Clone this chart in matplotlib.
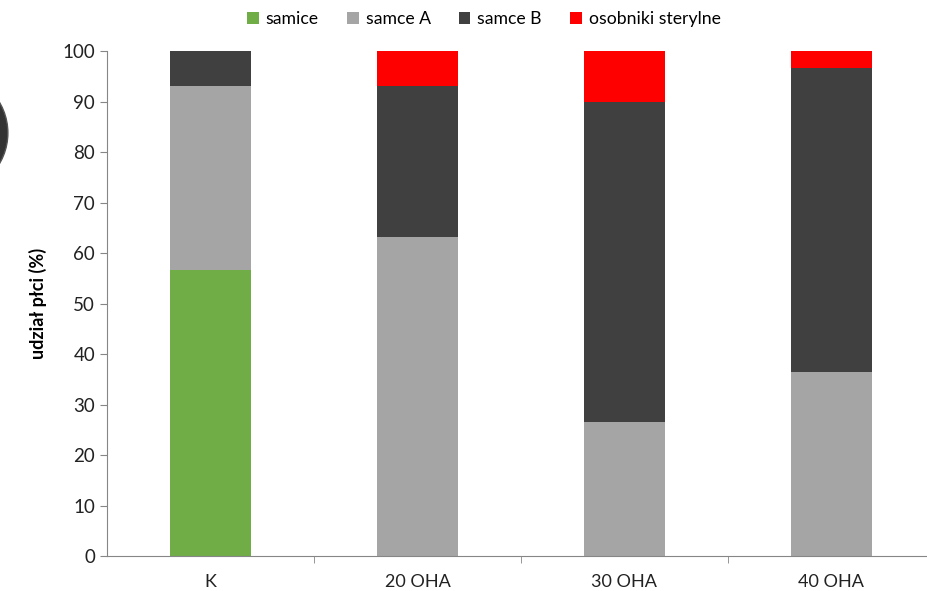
import numpy as np
import matplotlib.pyplot as plt
from matplotlib.patches import Ellipse

plt.rcParams['font.family'] = ['Lato', 'DejaVu Sans']

groups = ['K', '20 OHA', '30 OHA', '40 OHA']
samice = [56.6, 0, 0, 0]
samce_a = [36.5, 63.2, 26.5, 36.4]
samce_b = [6.9, 29.9, 63.4, 60.2]
sterylne = [0, 6.9, 10.1, 3.4]

series = [
    ('samice', samice, '#70AD47'),
    ('samce A', samce_a, '#A5A5A5'),
    ('samce B', samce_b, '#404040'),
    ('osobniki sterylne', sterylne, '#FF0000'),
]

fig = plt.figure(figsize=(9.27, 5.91), dpi=100)
ax = fig.add_axes([0.1154, 0.0592, 0.893, 0.8545])

x = np.arange(len(groups))
bottom = np.zeros(len(groups))
for name, vals, col in series:
    ax.bar(x, vals, 0.39, bottom=bottom, color=col, label=name)
    bottom += np.array(vals)

ax.set_xlim(-0.5, 3.5)
ax.set_ylim(0, 100)
ax.set_yticks(range(0, 101, 10))
ax.set_xticks(x)
ax.set_xticklabels(groups)
ax.set_xticks(np.arange(0.5, 3.5, 1), minor=True)
ax.tick_params(axis='x', which='major', length=0, pad=13, labelsize=13, colors='#222222')
ax.tick_params(axis='x', which='minor', length=5, color='#868686', direction='out')
ax.tick_params(axis='y', length=5, color='#868686', labelsize=13.5, labelcolor='#222222')
for s in ['top', 'right']:
    ax.spines[s].set_visible(False)
for s in ['left', 'bottom']:
    ax.spines[s].set_color('#868686')

ax.set_ylabel('udział płci (%)', fontsize=13, fontweight='bold', labelpad=11)

fig.legend(loc='upper center', bbox_to_anchor=(0.522, 1.008), ncol=4, frameon=False,
           fontsize=12.7, handlelength=0.65, handleheight=0.65, handletextpad=0.4,
           columnspacing=1.6)

# dark disc cut off at the left edge
fig.add_artist(Ellipse((-0.056, 0.775), 0.129, 0.203, transform=fig.transFigure,
                       facecolor='#333333', edgecolor='#555555'))

fig.savefig('out.png', dpi=100)
